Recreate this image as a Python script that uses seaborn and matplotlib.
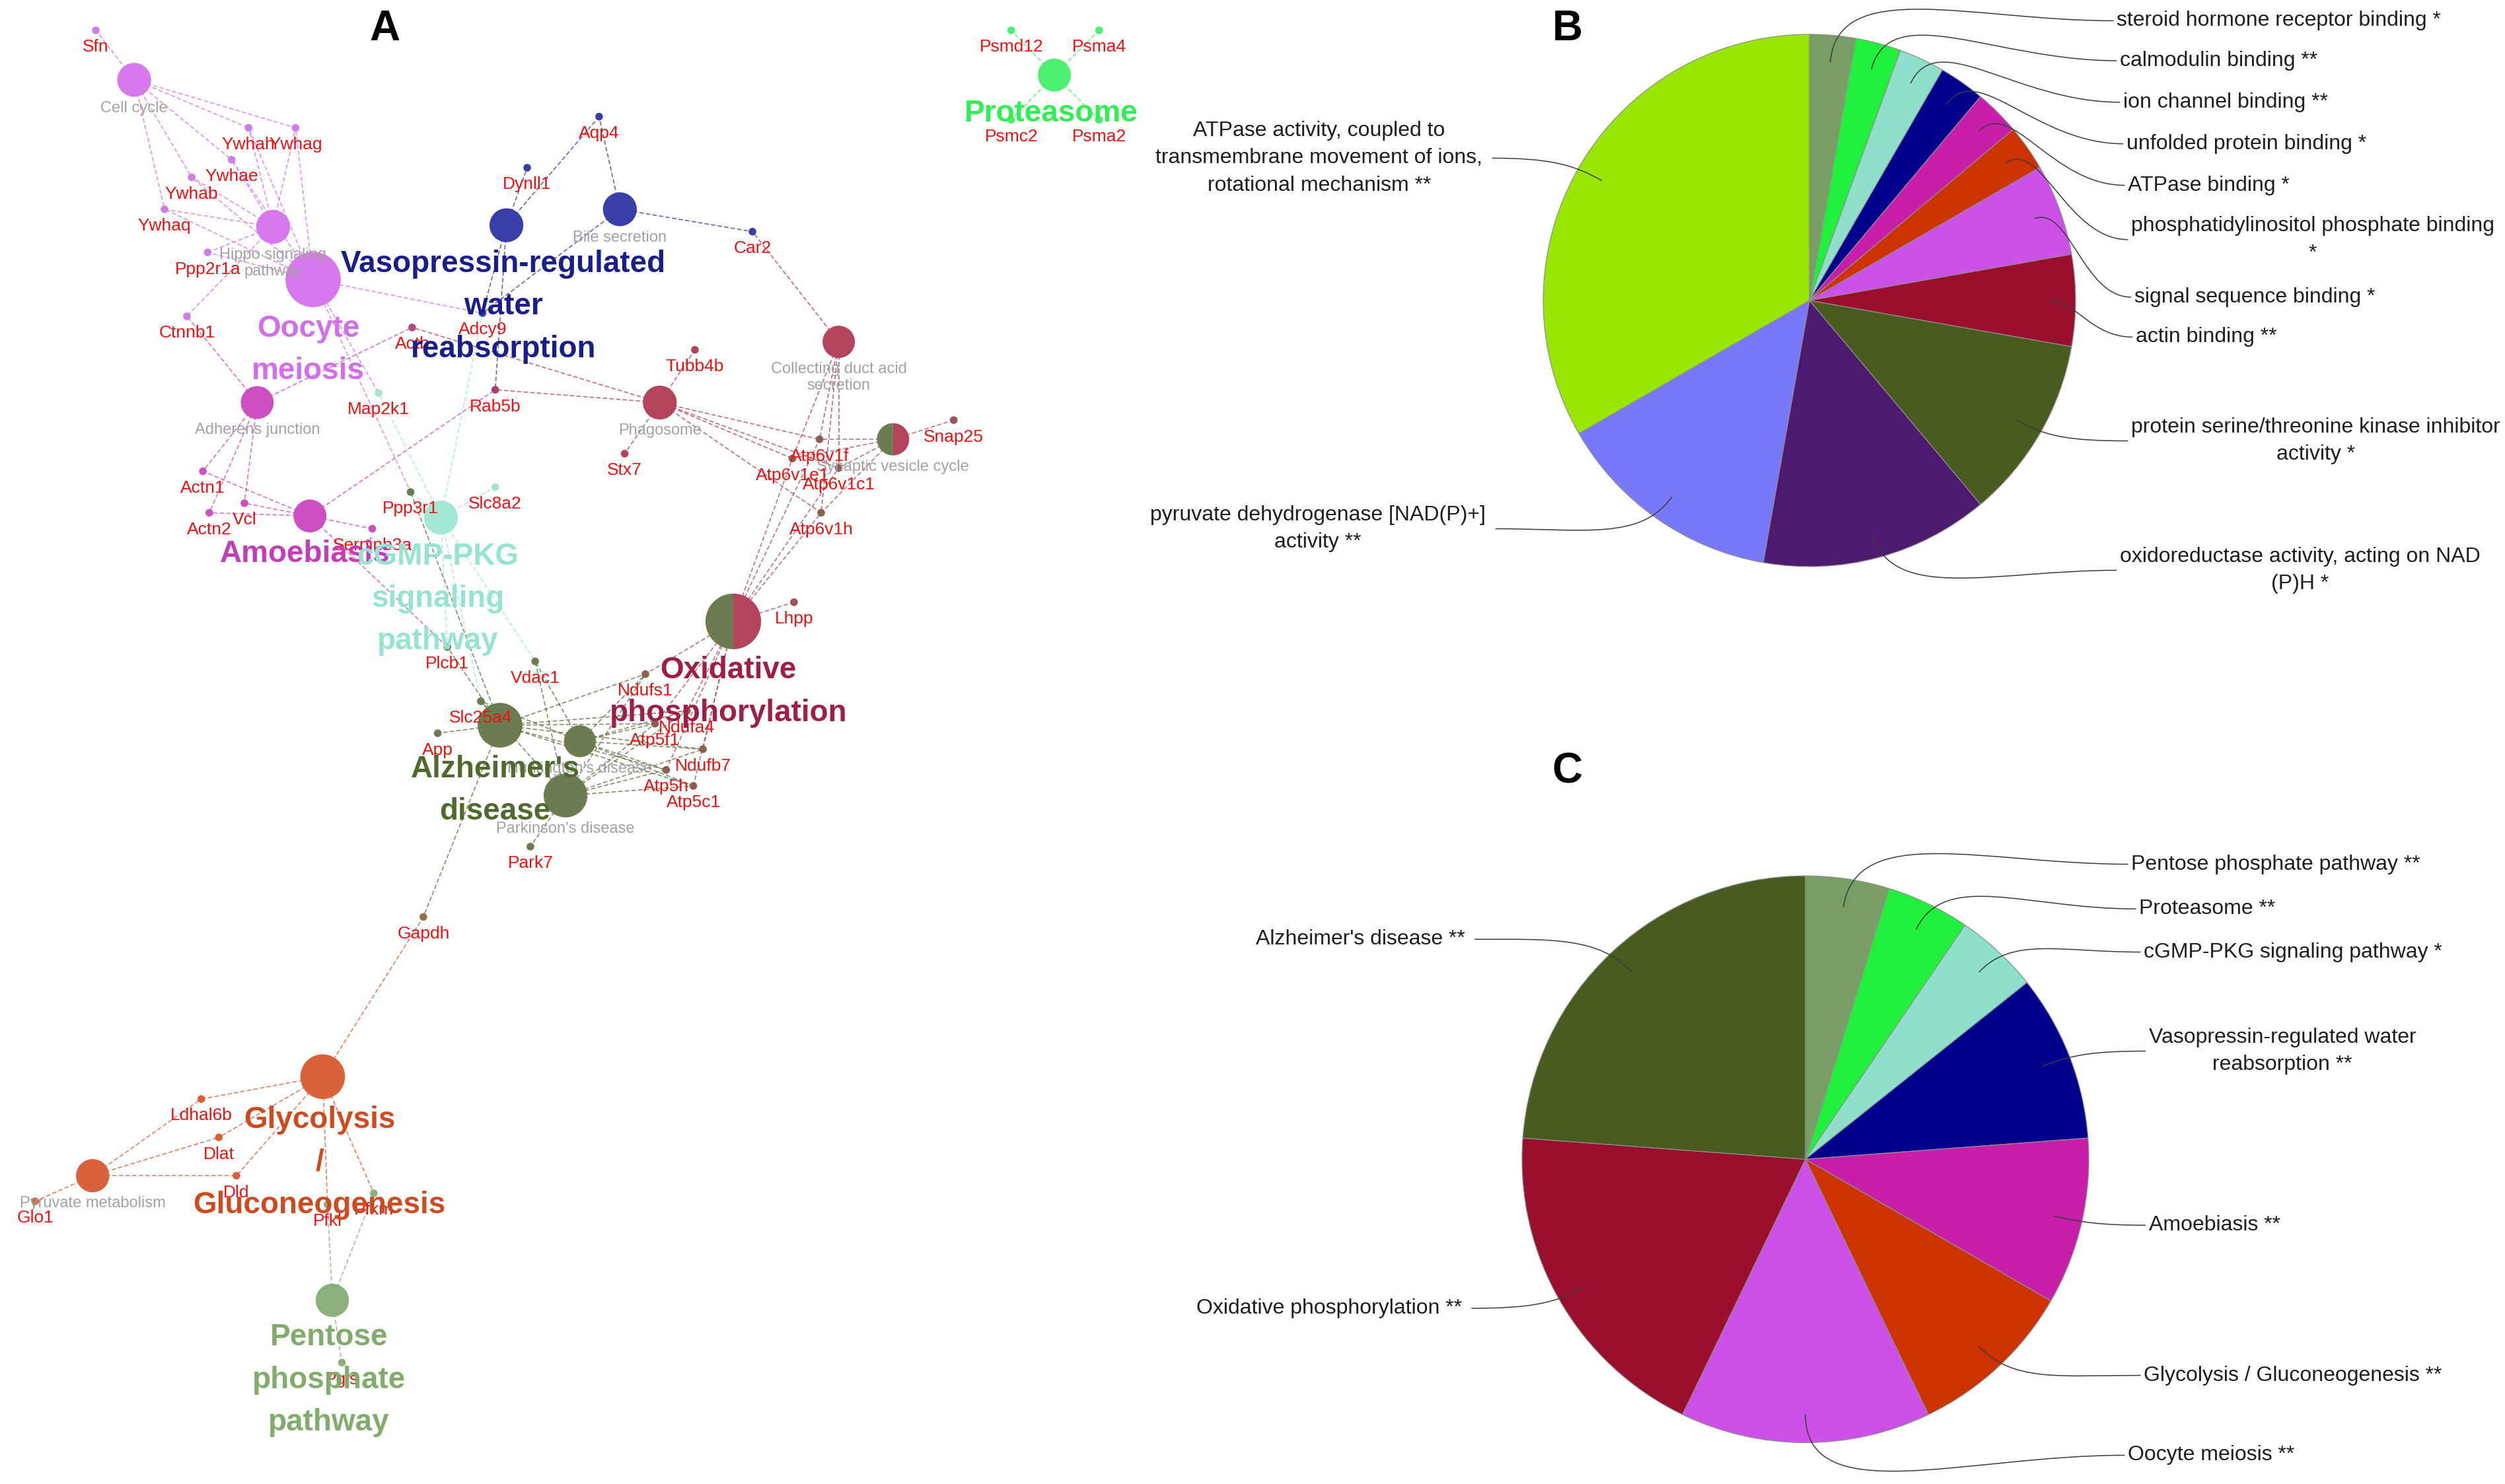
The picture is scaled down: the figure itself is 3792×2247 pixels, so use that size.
import numpy as np
import pandas as pd
import matplotlib
matplotlib.use('Agg')
import matplotlib.pyplot as plt
import seaborn as sns
from matplotlib.collections import LineCollection
from matplotlib.patches import Wedge, PathPatch
from matplotlib.path import Path

sns.set_theme(style='white')
plt.rcParams['font.family'] = ['Liberation Sans', 'DejaVu Sans']

# layout units = pixels of the 1568x929 preview, y downwards
W, H = 1568, 929

# ---------------- A: term / gene network ----------------
term_names = ['Cell cycle', 'Hippo signaling pathway', 'Oocyte meiosis', 'Adherens junction',
              'Amoebiasis', 'cGMP-PKG signaling pathway', 'Vasopressin-regulated water reabsorption',
              'Bile secretion', 'Phagosome', 'Collecting duct acid secretion', 'Synaptic vesicle cycle',
              'Oxidative phosphorylation', "Alzheimer's disease", "Huntington's disease",
              "Parkinson's disease", 'Glycolysis / Gluconeogenesis', 'Pyruvate metabolism',
              'Pentose phosphate pathway', 'Proteasome']
term_x = [84, 171, 196, 161, 194, 276, 317, 388, 413, 525, 559, 459, 313, 363, 354, 202, 58, 208, 660]
term_y = [50, 142, 175, 252, 323, 324, 141, 131, 252, 214, 275, 389, 454, 464, 498, 674, 736, 814, 47]
term_r = [10.6, 10.6, 17.3, 10.3, 10.3, 10.6, 10.6, 10.6, 10.6, 10.1, 10.1, 17.4, 14.0, 10.0, 13.7,
          14.0, 10.4, 10.4, 10.3]
term_group = ['oocyte', 'oocyte', 'oocyte', 'amoeb', 'amoeb', 'cgmp', 'vaso', 'vaso', 'oxphos',
              'oxphos', 'split', 'split', 'alz', 'alz', 'alz', 'glyco', 'glyco', 'pentose', 'prot']
term_caption = ['Cell cycle', 'Hippo signaling\npathway', '', 'Adherens junction', '', '', '',
                'Bile secretion', 'Phagosome', 'Collecting duct acid\nsecretion',
                'Synaptic vesicle cycle', '', '', "Huntington's disease", "Parkinson's disease",
                '', 'Pyruvate metabolism', '', '']

gene_names = ['Sfn', 'Ywhah', 'Ywhag', 'Ywhae', 'Ywhab', 'Ywhaq', 'Ppp2r1a', 'Ctnnb1', 'Actb',
              'Map2k1', 'Actn1', 'Vcl', 'Actn2', 'Serpinb3a', 'Ppp3r1', 'Slc8a2', 'Dynll1', 'Aqp4',
              'Car2', 'Adcy9', 'Rab5b', 'Tubb4b', 'Stx7', 'Snap25', 'Atp6v1f', 'Atp6v1e1',
              'Atp6v1c1', 'Atp6v1h', 'Lhpp', 'Vdac1', 'Plcb1', 'Ndufs1', 'Slc25a4', 'App',
              'Ndufa4', 'Atp5f1', 'Ndufb7', 'Atp5h', 'Atp5c1', 'Park7', 'Gapdh', 'Ldhal6b', 'Dlat',
              'Dld', 'Glo1', 'Pfkl', 'Pfkm', 'Pgls', 'Psmd12', 'Psma4', 'Psmc2', 'Psma2']
gene_x = [60, 155.6, 185, 145, 120, 103, 130, 117, 258, 237, 127, 153, 131, 233, 257, 310, 330, 375,
          471, 302, 310, 435, 391, 597, 513, 496, 525, 514, 497, 335, 280, 404, 301, 274, 430, 410,
          440, 417, 434, 332, 265, 126, 137, 148, 22, 205, 234, 214, 633, 688, 633, 688]
gene_y = [19, 80, 80, 100, 111, 131, 158, 198, 205, 246, 295, 315, 321, 331, 308, 305, 105, 73, 145,
          196, 244, 219, 284, 263, 275, 287, 293, 321, 377, 414, 405, 422, 439, 459, 445, 453, 469,
          482, 492, 530, 574, 688, 712, 736, 752, 754, 747, 853, 19, 19, 75, 75]
gene_group = ['g_oocyte'] * 8 + ['g_actb', 'g_cgmp'] + ['g_amoeb'] * 4 + ['g_olive', 'g_cgmp'] + \
             ['g_vaso'] * 4 + ['g_rab', 'g_oxphos', 'g_oxphos', 'g_mix', 'g_brown', 'g_brown',
                               'g_brown', 'g_brown', 'g_mix'] + ['g_olive'] * 2 + \
             ['g_brown', 'g_olive', 'g_olive'] + ['g_brown'] * 5 + ['g_olive', 'g_gapdh'] + \
             ['g_glyco'] * 4 + ['g_pentose'] * 3 + ['g_prot'] * 4

term_genes = {
    'Cell cycle': ['Sfn', 'Ywhah', 'Ywhag', 'Ywhae', 'Ywhab', 'Ywhaq'],
    'Hippo signaling pathway': ['Ywhah', 'Ywhag', 'Ywhae', 'Ywhab', 'Ywhaq', 'Ppp2r1a', 'Ctnnb1'],
    'Oocyte meiosis': ['Ywhah', 'Ywhag', 'Ywhae', 'Ywhab', 'Ywhaq', 'Ppp2r1a', 'Map2k1', 'Ppp3r1', 'Adcy9'],
    'Adherens junction': ['Ctnnb1', 'Actb', 'Actn1', 'Actn2', 'Vcl'],
    'Amoebiasis': ['Actn1', 'Actn2', 'Vcl', 'Serpinb3a', 'Rab5b', 'Plcb1'],
    'cGMP-PKG signaling pathway': ['Ppp3r1', 'Slc8a2', 'Adcy9', 'Plcb1', 'Vdac1', 'Slc25a4', 'Map2k1'],
    'Vasopressin-regulated water reabsorption': ['Dynll1', 'Aqp4', 'Adcy9', 'Rab5b'],
    'Bile secretion': ['Aqp4', 'Car2', 'Adcy9'],
    'Phagosome': ['Tubb4b', 'Stx7', 'Rab5b', 'Actb', 'Atp6v1f', 'Atp6v1e1', 'Atp6v1c1', 'Atp6v1h'],
    'Collecting duct acid secretion': ['Car2', 'Atp6v1f', 'Atp6v1e1', 'Atp6v1c1', 'Atp6v1h'],
    'Synaptic vesicle cycle': ['Snap25', 'Atp6v1f', 'Atp6v1e1', 'Atp6v1c1', 'Atp6v1h'],
    'Oxidative phosphorylation': ['Atp6v1f', 'Atp6v1e1', 'Atp6v1c1', 'Atp6v1h', 'Lhpp', 'Ndufs1',
                                  'Ndufa4', 'Atp5f1', 'Ndufb7', 'Atp5h', 'Atp5c1'],
    "Alzheimer's disease": ['App', 'Plcb1', 'Ppp3r1', 'Slc25a4', 'Ndufs1', 'Ndufa4', 'Atp5f1',
                            'Ndufb7', 'Atp5h', 'Atp5c1', 'Gapdh'],
    "Huntington's disease": ['Vdac1', 'Slc25a4', 'Ndufs1', 'Ndufa4', 'Atp5f1', 'Ndufb7', 'Atp5h', 'Atp5c1'],
    "Parkinson's disease": ['Park7', 'Vdac1', 'Slc25a4', 'Ndufs1', 'Ndufa4', 'Atp5f1', 'Ndufb7',
                            'Atp5h', 'Atp5c1'],
    'Glycolysis / Gluconeogenesis': ['Gapdh', 'Ldhal6b', 'Dlat', 'Dld', 'Pfkl', 'Pfkm'],
    'Pyruvate metabolism': ['Glo1', 'Ldhal6b', 'Dlat', 'Dld'],
    'Pentose phosphate pathway': ['Pfkl', 'Pfkm', 'Pgls'],
    'Proteasome': ['Psmd12', 'Psma4', 'Psmc2', 'Psma2'],
}

group_big = [('oocyte', 'Oocyte\nmeiosis'), ('amoeb', 'Amoebiasis'),
             ('cgmp', 'cGMP-PKG\nsignaling\npathway'),
             ('vaso', 'Vasopressin-regulated\nwater\nreabsorption'),
             ('oxphos', 'Oxidative\nphosphorylation'), ('alz', "Alzheimer's\ndisease"),
             ('glyco', 'Glycolysis\n/\nGluconeogenesis'), ('pentose', 'Pentose\nphosphate\npathway'),
             ('prot', 'Proteasome')]

# ---------------- B / C: pie charts ----------------
pie_b_labels = ['steroid hormone receptor binding *', 'calmodulin binding **', 'ion channel binding **',
                'unfolded protein binding *', 'ATPase binding *',
                'phosphatidylinositol phosphate binding\n*', 'signal sequence binding *',
                'actin binding **', 'protein serine/threonine kinase inhibitor\nactivity *',
                'oxidoreductase activity, acting on NAD\n(P)H *',
                'pyruvate dehydrogenase [NAD(P)+]\nactivity **',
                'ATPase activity, coupled to\ntransmembrane movement of ions,\nrotational mechanism **']
pie_b_values = [1, 1, 1, 1, 1, 1, 2, 2, 4, 5, 5, 12]

pie_c_labels = ['Pentose phosphate pathway **', 'Proteasome **', 'cGMP-PKG signaling pathway *',
                'Vasopressin-regulated water\nreabsorption **', 'Amoebiasis **',
                'Glycolysis / Gluconeogenesis **', 'Oocyte meiosis **',
                'Oxidative phosphorylation **', "Alzheimer's disease **"]
pie_c_values = [1, 1, 1, 2, 2, 2, 3, 4, 5]

# ---------------- styles ----------------
node_col = {'oocyte': '#d778ee', 'amoeb': '#cd50c3', 'cgmp': '#a3e7d7', 'vaso': '#3a3ea8',
            'oxphos': '#b4445c', 'alz': '#6b7d50', 'glyco': '#da623a', 'pentose': '#8cb07c',
            'prot': '#4cf06e', 'split': '#b4445c'}
edge_col = dict(node_col, split='#a8506a', alz='#5f7244')
big_col = {'oocyte': '#d26eeb', 'amoeb': '#c33cb9', 'cgmp': '#96e4d0', 'vaso': '#191e8c',
           'oxphos': '#a01e46', 'alz': '#50692d', 'glyco': '#cd4b1e', 'pentose': '#82ac6c',
           'prot': '#32ee55'}
gene_col = {'g_oocyte': '#d27ce8', 'g_actb': '#b4467a', 'g_cgmp': '#a6e4d2', 'g_amoeb': '#cd50c3',
            'g_olive': '#6b7d50', 'g_vaso': '#3a3ea8', 'g_rab': '#a8406a', 'g_oxphos': '#b4445c',
            'g_mix': '#a0505a', 'g_brown': '#8a6050', 'g_gapdh': '#a06a48', 'g_glyco': '#da623a',
            'g_pentose': '#8cb07c', 'g_prot': '#4cf06e'}
big_pos = {'oocyte': (193, 219), 'amoeb': (191, 347), 'cgmp': (274, 375), 'vaso': (315, 192),
           'oxphos': (456, 433), 'alz': (310, 495), 'glyco': (200, 728), 'pentose': (206, 864),
           'prot': (658, 71)}
pal_12 = ['#799e65', '#20f03c', '#8ee0ca', '#00008c', '#c81eaa', '#cc3300', '#cd50e8', '#9a0e2e',
          '#475c1e', '#4e1a70', '#7878fa', '#99e600']
pal_9 = pal_12[:9]
pie_b_geom = (1132.6, 188.1, 166.6)
pie_c_geom = (1130.1, 725.7, 177.4)
pie_b_anchor = [('r', 1325, 13), ('r', 1327, 38), ('r', 1329, 64), ('r', 1331, 90), ('r', 1332, 116),
                ('r', 1334, 150), ('r', 1336, 186), ('r', 1337, 211), ('r', 1334, 276), ('r', 1327, 357),
                ('l', 930, 331), ('l', 928, 99)]
pie_c_anchor = [('r', 1334, 541), ('r', 1339, 569), ('r', 1342, 596), ('r', 1345, 658), ('r', 1345, 767),
                ('r', 1342, 861), ('r', 1332, 911), ('l', 915, 819), ('l', 917, 588)]

PX = 3792 / W  # figure px per layout unit


def area(r):
    return (2 * r * PX * 0.72) ** 2


fig = plt.figure(figsize=(37.92, 22.47), dpi=100)
ax = fig.add_axes([0, 0, 1, 1])

terms = pd.DataFrame({'name': term_names, 'x': term_x, 'y': term_y, 'r': term_r, 'group': term_group,
                      'caption': term_caption})
genes = pd.DataFrame({'name': gene_names, 'x': gene_x, 'y': gene_y, 'group': gene_group})
tpos = terms.set_index('name')
gpos = genes.set_index('name')

# edges
for tname, glist in term_genes.items():
    t = tpos.loc[tname]
    segs = [[(t.x, t.y), (gpos.loc[g].x, gpos.loc[g].y)] for g in glist]
    lc = LineCollection(segs, colors=edge_col[t.group], linewidths=1.2, linestyles=(0, (4, 2)),
                        alpha=0.8, zorder=1)
    ax.add_collection(lc)

# nodes
plain = terms[terms.group != 'split']
sns.scatterplot(data=plain, x='x', y='y', hue='group', palette=node_col, s=area(plain.r.values),
                edgecolor='none', linewidth=0, legend=False, ax=ax, zorder=3)
for _, t in terms[terms.group == 'split'].iterrows():
    ax.add_patch(Wedge((t.x, t.y), t.r, 90, 270, fc=node_col['alz'], ec='none', zorder=3))
    ax.add_patch(Wedge((t.x, t.y), t.r, -90, 90, fc=node_col['oxphos'], ec='none', zorder=3))
sns.scatterplot(data=genes, x='x', y='y', hue='group', palette=gene_col, s=area(2.4),
                edgecolor='none', linewidth=0, legend=False, ax=ax, zorder=3)
ax.set_xlim(0, W)
ax.set_ylim(H, 0)
ax.axis('off')

# labels
for _, g in genes.iterrows():
    ax.text(g.x, g.y + 10.5, g['name'], ha='center', va='center', fontsize=19, color='#ee1111', zorder=5)
for _, t in terms[terms.caption != ''].iterrows():
    ax.text(t.x, t.y + t.r + 2.5, t.caption, ha='center', va='top', fontsize=17, color='#a2a2a2',
            linespacing=1.15, zorder=4)
for grp, txt in group_big:
    bx, by = big_pos[grp]
    ax.text(bx, by, txt, ha='center', va='center', fontsize=33, fontweight='bold', color=big_col[grp],
            multialignment='center', linespacing=1.6, zorder=6)


# pies
def add_pie(geom, values, colors):
    cx, cy, r = geom
    pax = fig.add_axes([(cx - r) / W, 1 - (cy + r) / H, 2 * r / W, 2 * r / H])
    wedges, _ = pax.pie(values, colors=colors, startangle=90, counterclock=False,
                        wedgeprops=dict(edgecolor='#8f8f8f', linewidth=0.9))
    pax.set_xlim(-1, 1)
    pax.set_ylim(-1, 1)
    pax.set_aspect('auto')
    pax.axis('off')
    return pax, wedges


pax_b, wedges_b = add_pie(pie_b_geom, pie_b_values, pal_12)
pax_c, wedges_c = add_pie(pie_c_geom, pie_c_values, pal_9)

top = fig.add_axes([0, 0, 1, 1])
top.set_xlim(0, W)
top.set_ylim(H, 0)
top.axis('off')
top.patch.set_alpha(0)


def label_slices(pax, wedges, labels, anchors):
    inv = top.transData.inverted()
    for w, lab, (side, x, y) in zip(wedges, labels, anchors):
        th = np.deg2rad(0.5 * (w.theta1 + w.theta2))
        p0 = inv.transform(pax.transData.transform((0.9 * np.cos(th), 0.9 * np.sin(th))))
        rad = np.array([np.cos(th), -np.sin(th)])
        sgn = 1 if side == 'r' else -1
        p3 = np.array([x - 2 if side == 'r' else x + 6, y])
        dist = np.hypot(*(p3 - p0))
        p1 = p0 + rad * 0.3 * dist
        p2 = p3 - np.array([sgn * 0.5 * abs(p3[0] - p0[0]), 0])
        path = Path([p0, p1, p2, p3], [Path.MOVETO, Path.CURVE4, Path.CURVE4, Path.CURVE4])
        top.add_patch(PathPatch(path, fc='none', ec='#3c3c3c', lw=1.1))
        top.text(x, y, lab, ha='left' if side == 'r' else 'right', va='center',
                 multialignment='center', fontsize=23, linespacing=1.5, color='#1e1e1e')


label_slices(pax_b, wedges_b, pie_b_labels, pie_b_anchor)
label_slices(pax_c, wedges_c, pie_c_labels, pie_c_anchor)

for letter, lx, ly in [('A', 241, 18), ('B', 981, 18), ('C', 981, 483)]:
    top.text(lx, ly, letter, ha='center', va='center', fontsize=46, fontweight='bold', color='black')

fig.savefig('out.png', dpi=100)
